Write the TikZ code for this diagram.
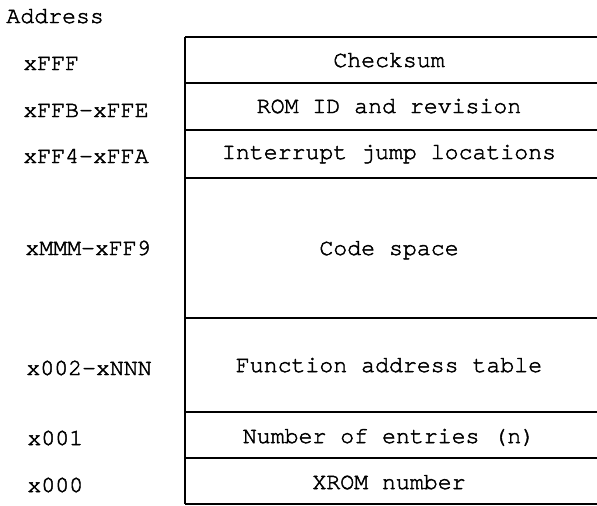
\documentclass[tikz,border=0pt]{standalone}
\usepackage{fontspec}
\setmonofont{texgyrecursor}[Extension=.otf, UprightFont=*-regular, FakeBold=2]
\usetikzlibrary{positioning}

\begin{document}
\begin{tikzpicture}[x=0.5pt, y=-0.5pt]

        \def\l{185}
        \def\r{597}

        % Text in the table is typewriter, set on its baseline
        \tikzset{txt/.style={font=\ttfamily\fontsize{11.6}{14}\selectfont,
                inner sep=0pt, anchor=base}}
        \tikzset{adr/.style={txt, anchor=base west}}

        \useasboundingbox (0,0) rectangle (\r,505);

        % Address column
        \begin{scope}
            \node[adr] (H) at (6,23) {Address};
            \node[adr] (A1) at (23,70) {xFFF};
            \node[adr] (A2) at (23,117) {xFFB-xFFE};
            \node[adr] (A3) at (23,163) {xFF4-xFFA};
            \node[adr] (A4) at (25,255) {xMMM-xFF9};
            \node[adr] (A5) at (26,375) {x002-xNNN};
            \node[adr] (A6) at (27,445) {x001};
            \node[adr] (A7) at (27,492) {x000};
        \end{scope}

        % Contents column
        \begin{scope}
            \node[txt] (C1) at (389,67) {Checksum};
            \node[txt] (C2) at (389,113) {ROM ID and revision};
            \node[txt] (C3) at (389,159) {Interrupt jump locations};
            \node[txt] (C4) at (389,255) {Code space};
            \node[txt] (C5) at (389,372) {Function address table};
            \node[txt] (C6) at (389,443) {Number of entries (n)};
            \node[txt] (C7) at (389,489) {XROM number};
        \end{scope}

        \begin{scope}[line width=0.9pt]
            \draw (\l,37) -- (\l,504);
            \foreach\y in {37,83,130,178,318,412,458,504}
            \draw (\l,\y) -- (\r,\y);
        \end{scope}

\end{tikzpicture}
\end{document}
